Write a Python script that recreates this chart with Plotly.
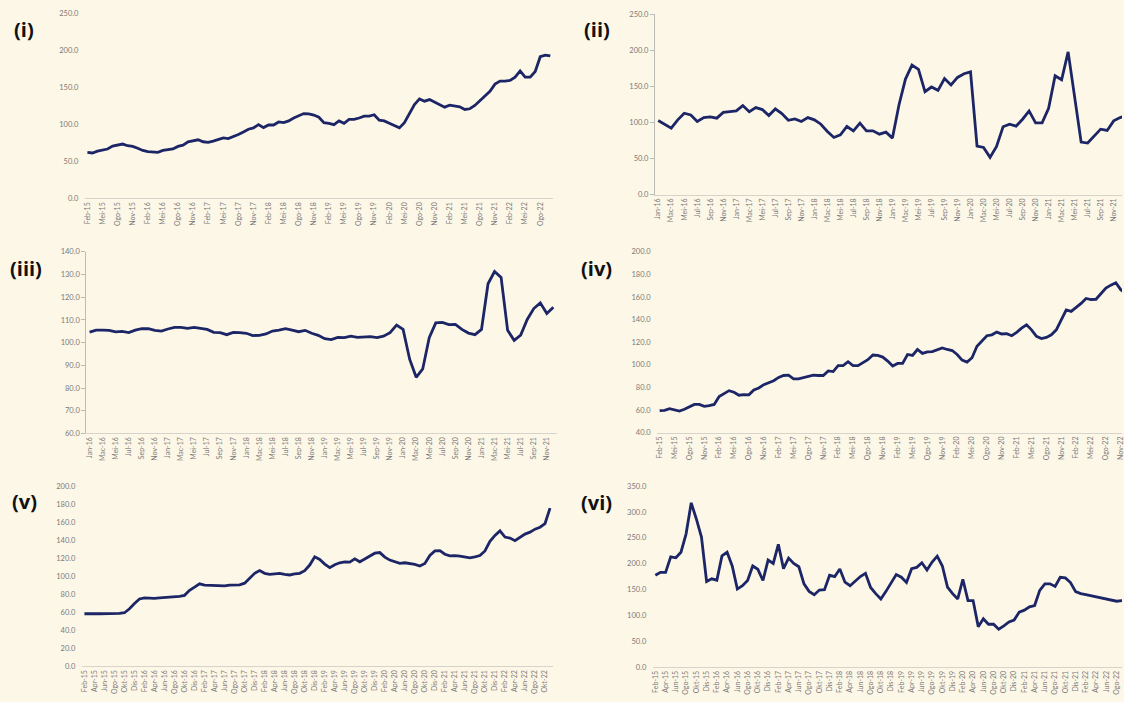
import plotly.graph_objects as go

# ---------------- data ----------------
MONTHS = ["Jan", "Feb", "Mac", "Apr", "Mei", "Jun", "Jul", "Ogo", "Sep", "Okt", "Nov", "Dis"]


def month_labels(start_month, start_year, n):
    out = []
    m, y = start_month - 1, start_year
    for _ in range(n):
        out.append(f"{MONTHS[m]}-{y % 100:02d}")
        m += 1
        if m == 12:
            m, y = 0, y + 1
    return out


vals_i = [62.5, 61.6, 64, 65, 67, 71, 72, 73.7, 71.4, 70.5,
          68, 65, 63.4, 63.4, 62.5, 65, 66, 67, 70.5, 72.3,
          76.8, 77.7, 79.5, 76.8, 75.9, 77.7, 80, 82, 81, 83.5,
          86.6, 90, 93.8, 95.5, 100, 96, 99.5, 99.5, 103.6, 102.7,
          105, 109, 112.5, 115, 114.7, 113, 110, 102.7, 101.8, 100,
          105, 101.8, 107, 107, 109, 111.6, 111.6, 113.4, 106, 105,
          101.8, 98.3, 95.6, 102.7, 115.2, 127.2, 134.9, 131.8, 133.9, 130.4,
          127.8, 123.7, 126.4, 125.5, 124.1, 120.5, 121.5, 125.9, 132.2, 138.5,
          145.2, 154.9, 159, 159, 159.9, 164.3, 172.8, 164.3, 164.3, 172,
          192, 194.2, 193]

vals_ii = [102.7, 97.6, 92, 103.6, 112.8, 110.5, 101.3, 106.8, 107.7, 106,
           114, 115, 116, 123.4, 115, 120.6, 117.9, 109.6, 118.8, 112.3,
           103, 105, 101.3, 106.8, 103.6, 97.6, 87.5, 79.2, 82.9, 94.4,
           88.4, 99, 88.4, 88.4, 83.8, 86.6, 78.3, 124.3, 160.2, 179.6,
           173.6, 142.7, 149.2, 144.6, 161, 152, 162.5, 167.6, 170.3, 67.2,
           65.4, 51.6, 66.8, 94, 97.6, 94.8, 104.5, 116, 99.4, 99.4,
           119.7, 164.8, 159.3, 198, 133.5, 72.7, 71.4, 80.6, 90.7, 88.9,
           102.2, 106.8, 110]

vals_iii = [104.65, 105.5, 105.5, 105.4, 104.7, 104.9, 104.4, 105.5, 106.1, 106.1,
            105.4, 105.1, 106, 106.7, 106.7, 106.3, 106.7, 106.1, 105.8, 104.5,
            104.4, 103.5, 104.5, 104.4, 104.1, 103.1, 103.2, 103.8, 105.1, 105.5,
            106.1, 105.5, 104.8, 105.4, 104.1, 103.2, 101.7, 101.3, 102.3, 102.2,
            102.8, 102.3, 102.6, 102.6, 102.2, 102.8, 104.4, 107.7, 105.8, 92.7,
            84.7, 88.4, 102.2, 108.7, 108.9, 107.9, 108, 105.8, 104.2, 103.5,
            105.8, 125.9, 131.3, 128.7, 105.4, 101, 103.3, 110.2, 115, 117.5,
            112.8, 115.6]

vals_iv = [59.5, 59.8, 61.2, 60.4, 59.2, 60.7, 62.7, 65, 65, 63.3,
           63.9, 65, 72, 74.3, 77.2, 75.8, 73.2, 73.7, 73.5, 77.8,
           79.6, 82.5, 84.2, 86, 88.9, 90.6, 90.9, 87.7, 87.7, 88.9,
           90.3, 90.9, 90.6, 90.6, 94.7, 94.1, 99.3, 99.3, 102.8, 99.3,
           99.3, 101.7, 104.6, 108.7, 108.4, 106.9, 103.4, 99,
           101.3, 101.3, 109.2, 108.3, 113.6, 110.1, 111.5, 111.8, 113.6, 115, 113.6, 112.7,
           109.2, 104.2, 102.5, 106.3, 116.5, 120.8, 125.8, 126.6, 129, 127.3,
           127.6, 125.8, 128.7, 132.5, 135.4, 131, 125.2, 123.2, 124.3, 126.6,
           131, 139.7, 148.5, 147.3, 150.8, 154.3, 158.7, 157.8, 158, 163,
           167.9, 170.5, 172.6, 166.5, 163]

vals_v = [58.4, 58.7, 58.4, 58.4, 58.4, 58.4, 58.4, 58.7, 59.5, 63.9,
          69.7, 74.8, 75.9, 75.5, 75.5, 75.9, 76.3, 76.3, 77, 77.7,
          78.8, 84.3, 87.9, 91.6, 90.1, 89.8, 89.8, 89.4, 89.4, 90.1,
          90.1, 90.5, 92.3, 97.4, 103.2, 106.2, 103.2, 102.1, 102.5, 103.2,
          102.1, 101.4, 102.5, 103.2, 106.2, 112.4, 121.5, 118.6, 113.5, 109.5,
          112.8, 114.9, 116, 115.6, 119.3, 116, 119, 122.2, 125.5, 126.2,
          121.2, 117.9, 115.7, 114.2, 114.9, 114.2, 113.1, 111.3, 114.2, 123,
          128, 128.3, 124.4, 122.6, 122.9, 122.2, 121.5, 120.4, 121.5, 122.9,
          128, 138.7, 145.2, 150.3, 143.4, 142.3, 139.4, 143.1, 146.7, 148.9,
          152.2, 154.3, 158.4, 175.5]

vals_vi = [177.5, 183.2, 183, 213, 211.3, 222, 257.6, 317.5, 286.3, 251.3,
           165.5, 170.6, 168, 215, 222, 195.4, 150.8, 157.2, 167.4, 195.4,
           189, 167.4, 206.9, 200.4, 237.4, 190.3, 210.7, 200.4, 194, 161,
           146.4, 140, 148.9, 149.5, 177.5, 175, 189.7, 164.1, 157.2, 166,
           175, 181.3, 154, 142, 131.7, 146.4, 163.5, 178.8, 173.7, 163.5,
           190.3, 192.7, 201.7, 187.8, 203, 214.5, 195.4, 154.6, 142, 131.7,
           169.8, 128.6, 128.6, 78.2, 93.5, 82.8, 82.8, 73.3, 79.6, 87.2,
           91, 106.3, 110.1, 116.4, 119.1, 148.3, 161, 161, 155.9, 173.7,
           172.5, 163.5, 145.8, 142, 140.1, 138.2, 135.5, 133, 132.4, 130.5,
           127.3, 128.6, 130]

cats_i = month_labels(2, 2015, len(vals_i))
cats_ii = month_labels(1, 2016, len(vals_ii))
cats_iii = month_labels(1, 2016, len(vals_iii))
cats_iv = month_labels(2, 2015, len(vals_iv))
cats_v = month_labels(2, 2015, len(vals_v))
cats_vi = month_labels(2, 2015, len(vals_vi))

panel_names = ["(i)", "(ii)", "(iii)", "(iv)", "(v)", "(vi)"]

# ---------------- styling / layout ----------------
W, H = 1124, 702
BG = "#FDF7E7"
NAVY = "#1C2566"
TICK_COLOR = "#7A7A7A"
FONT = "Lato"

panels = [
    dict(cats=cats_i, vals=vals_i, step=3, x=(83.2, 552.8), xr=(-0.5, 92.5),
         y=(10, 197), yr=(0, 250), dtick=50, yline=False, label=(22, 26)),
    dict(cats=cats_ii, vals=vals_ii, step=2, x=(655.3, 1124), xr=(-0.5, 71.28),
         y=(10.5, 193), yr=(0, 250), dtick=50, yline=True, label=(597, 26)),
    dict(cats=cats_iii, vals=vals_iii, step=2, x=(84.6, 556.6), xr=(-0.5, 71.5),
         y=(251, 435), yr=(60, 140), dtick=10, yline=True, label=(24, 268)),
    dict(cats=cats_iv, vals=vals_iv, step=3, x=(657.5, 1124), xr=(-0.5, 93.25),
         y=(251, 434.3), yr=(40, 200), dtick=20, yline=False, label=(597, 268)),
    dict(cats=cats_v, vals=vals_v, step=2, x=(80.2, 552.5), xr=(-0.5, 93.5),
         y=(488.3, 671), yr=(0, 200), dtick=20, yline=False, label=(23, 504)),
    dict(cats=cats_vi, vals=vals_vi, step=2, x=(653.1, 1124), xr=(-0.5, 91.05),
         y=(488.3, 671.7), yr=(0, 350), dtick=50, yline=False, label=(597, 505)),
]

fig = go.Figure()
layout = {}
annotations = []
for k, p in enumerate(panels, start=1):
    sfx = "" if k == 1 else str(k)
    fig.add_trace(go.Scatter(
        x=p["cats"], y=p["vals"], mode="lines",
        line=dict(color=NAVY, width=2.8),
        xaxis="x" + sfx, yaxis="y" + sfx,
        showlegend=False, hoverinfo="skip"))
    ticks = p["cats"][::p["step"]]
    layout["xaxis" + sfx] = dict(
        domain=[p["x"][0] / W, min(p["x"][1] / W, 1.0)],
        anchor="y" + sfx, type="category", range=list(p["xr"]),
        tickmode="array", tickvals=ticks, ticktext=ticks, tickangle=-90,
        tickfont=dict(family=FONT, size=7, color=TICK_COLOR),
        showline=True, linecolor="#D6D3CB", linewidth=1,
        showgrid=False, zeroline=False, ticks="", fixedrange=True)
    layout["yaxis" + sfx] = dict(
        domain=[1 - p["y"][1] / H, 1 - p["y"][0] / H],
        anchor="x" + sfx, range=list(p["yr"]), dtick=p["dtick"], tick0=p["yr"][0],
        tickformat=".1f",
        tickfont=dict(family=FONT, size=7.5, color=TICK_COLOR),
        showline=p["yline"], linecolor="#BDBBB5", linewidth=1,
        ticks="outside", ticklen=4,
        tickcolor="#BDBBB5" if p["yline"] else "rgba(0,0,0,0)",
        showgrid=False, zeroline=False, fixedrange=True)
    annotations.append(dict(
        text="<b>" + panel_names[k - 1] + "</b>", xref="paper", yref="paper",
        x=p["label"][0] / W, y=1 - p["label"][1] / H,
        xanchor="center", yanchor="middle", showarrow=False,
        font=dict(family="Open Sans", size=20, color="#111111")))

fig.update_layout(
    width=W, height=H, margin=dict(l=0, r=0, t=0, b=0),
    paper_bgcolor=BG, plot_bgcolor=BG,
    annotations=annotations, **layout)

fig.write_html(
    "out.html",
    config={"displayModeBar": False},
    post_script=(
        "document.documentElement.style.margin='0';"
        "document.documentElement.style.overflow='hidden';"
        "document.body.style.margin='0';"
        "document.body.style.overflow='hidden';"
        "document.body.style.background='" + BG + "';"
    ),
)
